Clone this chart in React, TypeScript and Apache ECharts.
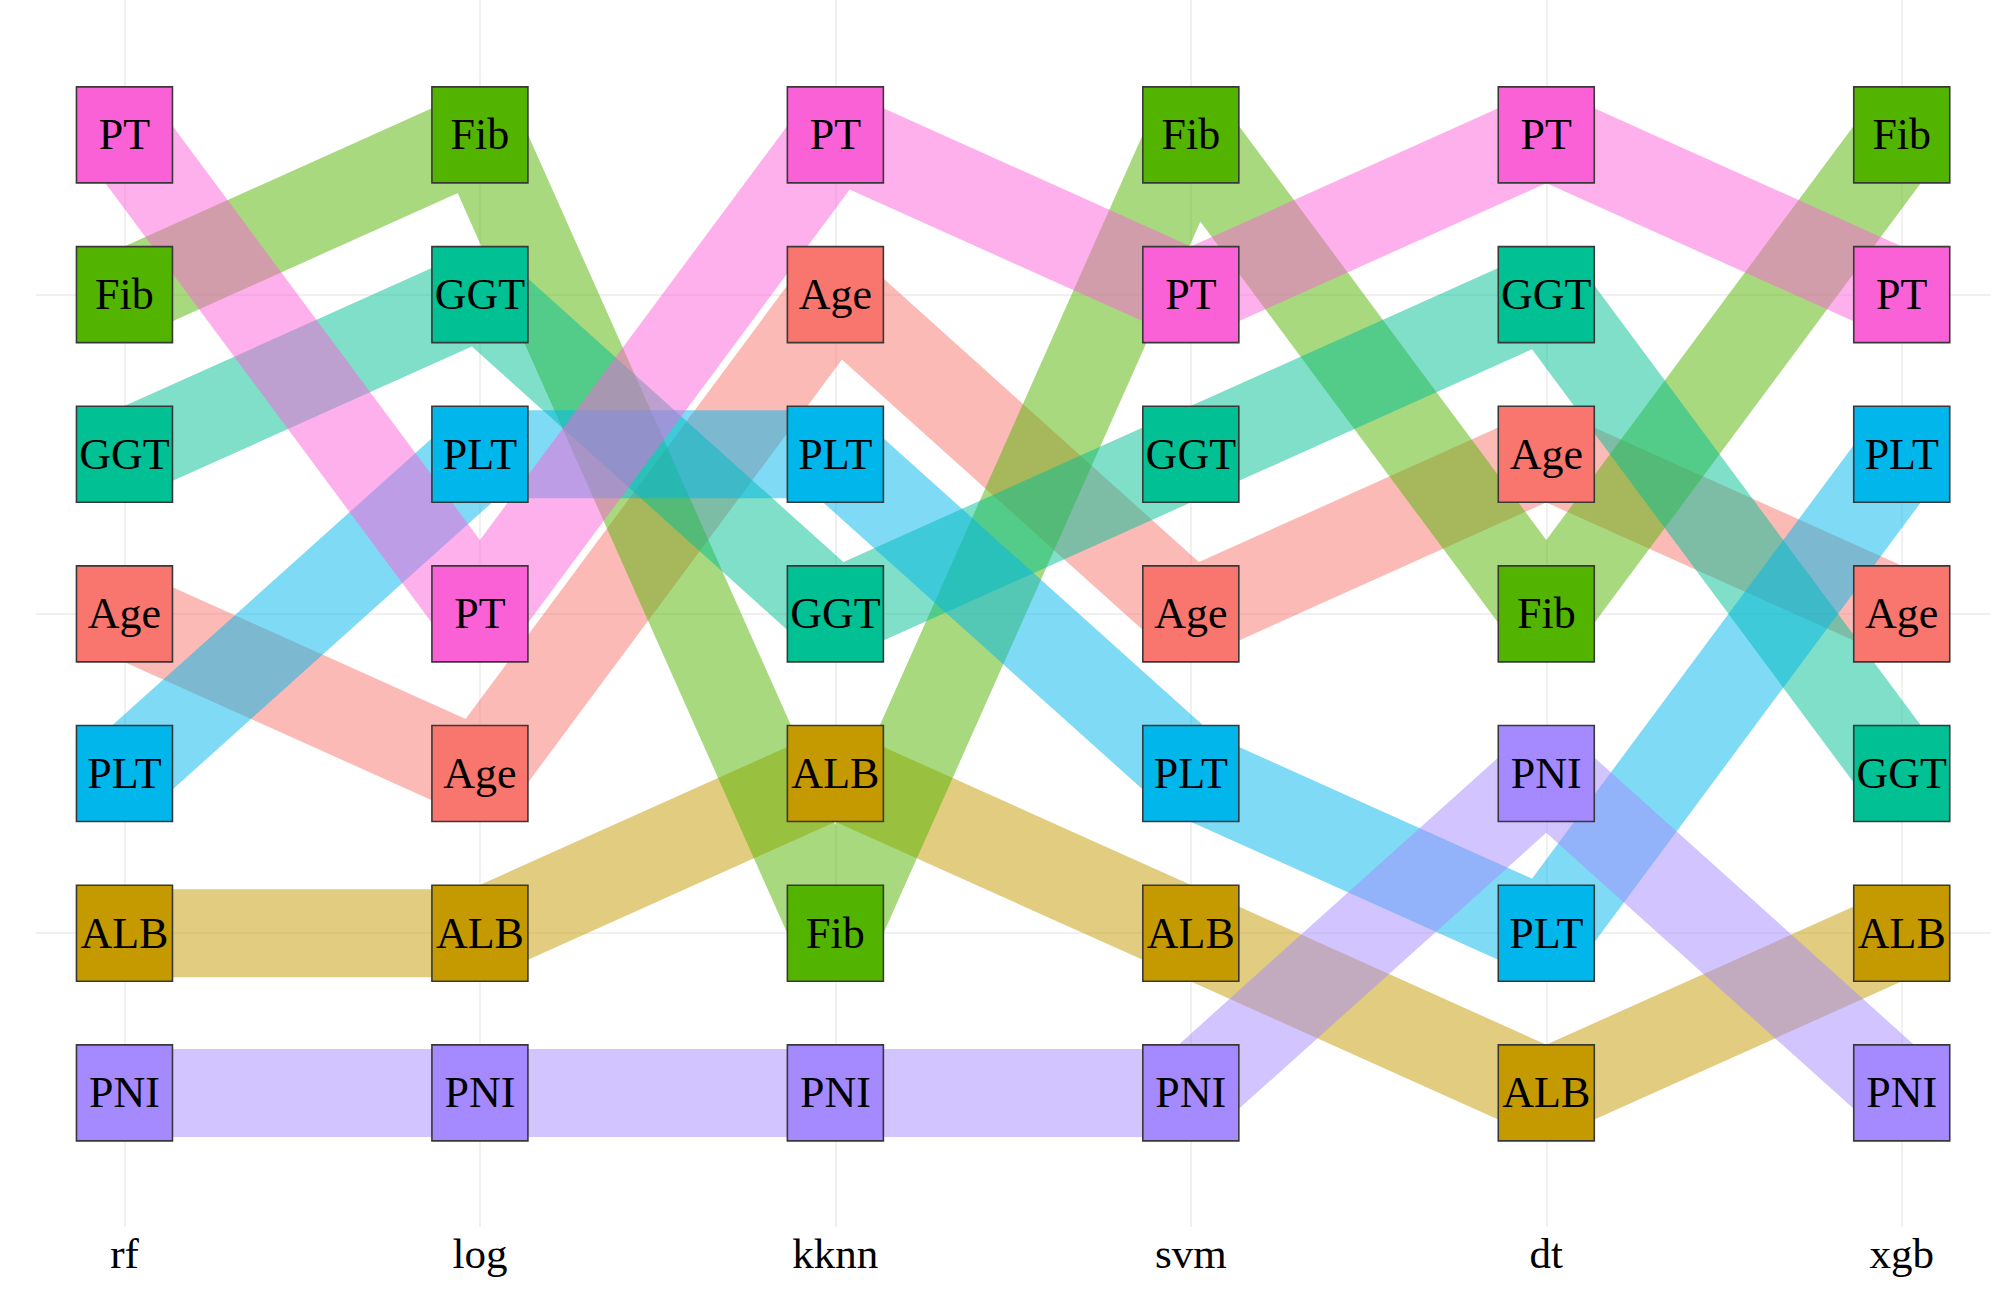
import React, { useEffect, useRef } from "react";
import * as echarts from "echarts";

const models = ["rf", "log", "kknn", "svm", "dt", "xgb"];
const variables = ["Age", "ALB", "Fib", "GGT", "PLT", "PNI", "PT"];
const varColors = ["#F8766D", "#C49A00", "#53B400", "#00C094", "#00B6EB", "#A58AFF", "#FB61D7"];

// ranking of variables in each model, from rank 1 (top) to rank 7 (bottom)
const rankRf = ["PT", "Fib", "GGT", "Age", "PLT", "ALB", "PNI"];
const rankLog = ["Fib", "GGT", "PLT", "PT", "Age", "ALB", "PNI"];
const rankKknn = ["PT", "Age", "PLT", "GGT", "ALB", "Fib", "PNI"];
const rankSvm = ["Fib", "PT", "GGT", "Age", "PLT", "ALB", "PNI"];
const rankDt = ["PT", "GGT", "Age", "Fib", "PNI", "PLT", "ALB"];
const rankXgb = ["Fib", "PT", "PLT", "Age", "GGT", "ALB", "PNI"];

const rankings = [rankRf, rankLog, rankKknn, rankSvm, rankDt, rankXgb];
const xTicks = [0, 1, 2, 3, 4, 5];
const yGridTicks = [2, 4, 6];

const FONT = "'Liberation Serif', 'Times New Roman', serif";

export default function App() {
  const ref = useRef<HTMLDivElement>(null);
  useEffect(() => {
    document.body.style.margin = "0";
    const chart = echarts.init(ref.current!, undefined, { renderer: "svg" });

    const lineSeries = variables.map((v, vi) => ({
      type: "line",
      name: v + "-band",
      silent: true,
      symbol: "none",
      showSymbol: false,
      z: 1,
      data: rankings.map((r, mi) => [mi, r.indexOf(v) + 1]),
      lineStyle: {
        width: 88,
        color: varColors[vi],
        opacity: 0.5,
        cap: "butt",
        join: "bevel",
      },
      emphasis: { disabled: true },
    }));

    const boxSeries = variables.map((v, vi) => ({
      type: "scatter",
      name: v,
      silent: true,
      z: 3,
      symbol: "rect",
      symbolSize: 96,
      data: rankings.map((r, mi) => [mi, r.indexOf(v) + 1]),
      itemStyle: {
        color: varColors[vi],
        borderColor: "#383838",
        borderWidth: 1.6,
        opacity: 1,
      },
      label: {
        show: true,
        position: "inside",
        formatter: v,
        fontFamily: FONT,
        fontSize: 44,
        color: "#000",
        offset: [0, 0],
      },
      emphasis: { disabled: true },
    }));

    chart.setOption({
      animation: false,
      backgroundColor: "#ffffff",
      grid: { left: 35.6, top: 0, width: 1955, height: 1227, containLabel: false },
      xAxis: {
        type: "value",
        min: -0.25,
        max: 5.25,
        axisLine: { show: false },
        axisTick: { show: false, customValues: xTicks },
        axisLabel: {
          customValues: xTicks,
          formatter: (val: number) => models[Math.round(val)] ?? "",
          fontFamily: FONT,
          fontSize: 43,
          color: "#000",
          margin: 5,
        },
        splitLine: { show: true, lineStyle: { color: "#EBEBEB", width: 1.5 } },
      },
      yAxis: {
        type: "value",
        inverse: true,
        min: 0.155,
        max: 7.84,
        axisLine: { show: false },
        axisTick: { show: false, customValues: yGridTicks },
        axisLabel: { show: false, customValues: yGridTicks },
        splitLine: { show: true, lineStyle: { color: "#EBEBEB", width: 1.5 } },
      },
      series: [...lineSeries, ...boxSeries],
    });

    return () => chart.dispose();
  }, []);
  return <div ref={ref} style={{ width: 2000, height: 1294 }} />;
}
